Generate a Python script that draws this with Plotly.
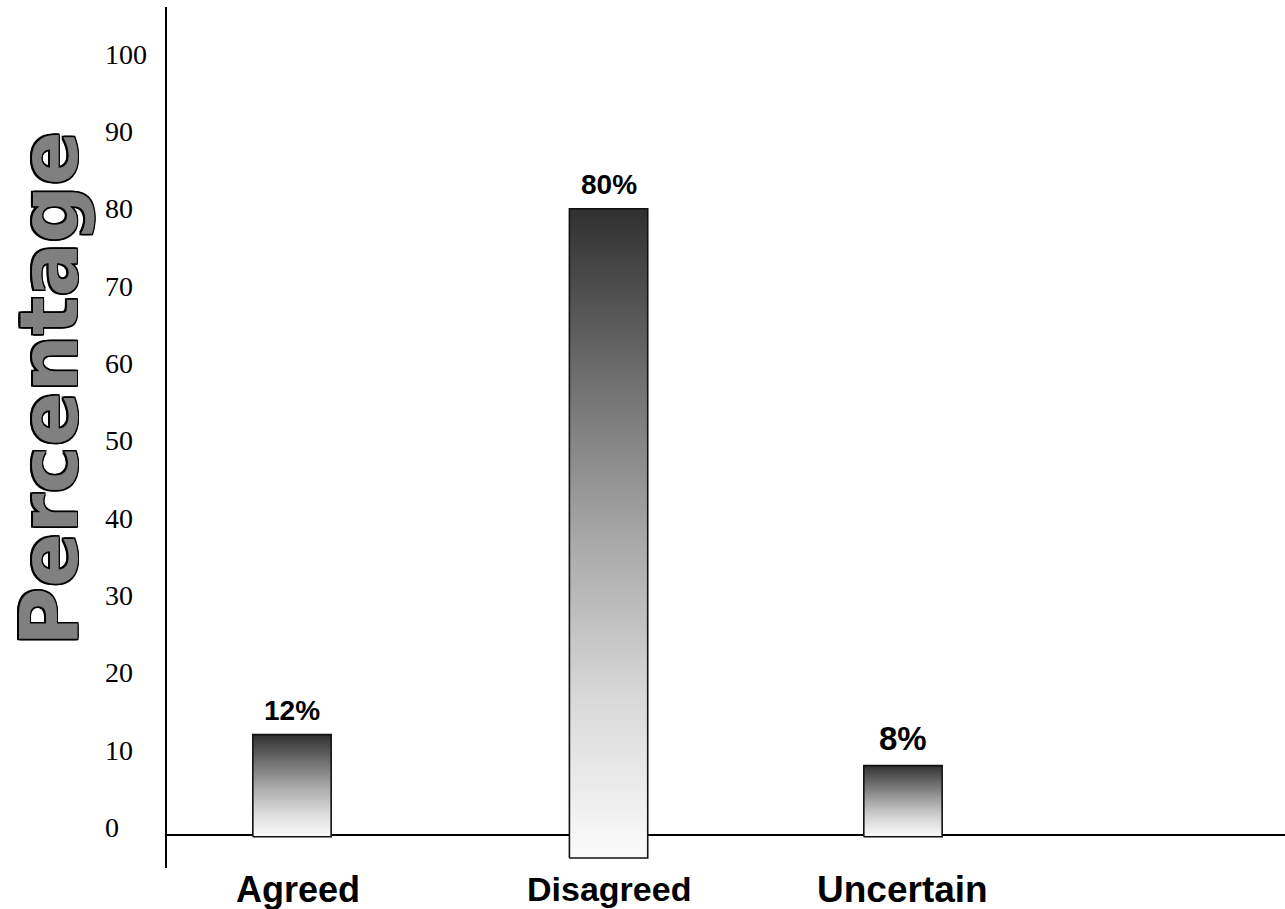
import plotly.graph_objects as go

# Survey responses (percent of respondents)
categories = ["Agreed", "Disagreed", "Uncertain"]
percentages = [12, 80, 8]
value_labels = ["12%", "80%", "8%"]
y_ticks = [0, 10, 20, 30, 40, 50, 60, 70, 80, 90, 100]

# Layout constants: bar centres on a 0-10 x scale, bar width, bar bottoms
x_centres = [1.126, 3.955, 6.586]
bar_width = 0.70
bar_bottoms = [-1.2, -3.95, -1.2]
label_sizes = [28, 28, 33]
cat_sizes = [36, 34, 37]
cat_offsets = [0.05, 0.0, 0.0]

# Shading from white at the foot to charcoal at the top of each bar
bar_shading = [[0, "#fbfbfb"], [0.25, "#d8d8d8"], [0.5, "#a6a6a6"],
               [0.75, "#6c6c6c"], [1, "#303030"]]

fig = go.Figure()

# Gradient-filled bars drawn as closed polygons
for cx, val, base in zip(x_centres, percentages, bar_bottoms):
    x0, x1 = cx - bar_width / 2, cx + bar_width / 2
    fig.add_trace(go.Scatter(
        x=[x0, x1, x1, x0, x0],
        y=[base, base, val, val, base],
        mode="lines",
        fill="toself",
        fillgradient=dict(type="vertical", colorscale=bar_shading),
        line=dict(color="#111111", width=1.6),
        hoverinfo="skip",
        showlegend=False,
    ))

# Value labels above bars
for cx, val, txt, fs in zip(x_centres, percentages, value_labels, label_sizes):
    fig.add_annotation(x=cx, y=val, xref="x", yref="y", text=f"<b>{txt}</b>",
                       showarrow=False, yanchor="bottom", yshift=7,
                       font=dict(family="Liberation Sans, Arial", size=fs, color="#000"))

# Category labels below the axis
for cx, cat, fs, off in zip(x_centres, categories, cat_sizes, cat_offsets):
    fig.add_annotation(x=cx + off, y=-0.022, xref="x", yref="paper", text=f"<b>{cat}</b>",
                       showarrow=False, yanchor="middle",
                       font=dict(family="Liberation Sans, Arial", size=fs, color="#000"))

# Left-aligned serif tick labels
for t in y_ticks:
    fig.add_annotation(x=-0.0566, y=t, xref="paper", yref="y", text=str(t),
                       showarrow=False, xanchor="left", yanchor="middle",
                       font=dict(family="Liberation Serif, Times New Roman", size=28, color="#000"))

# Outlined axis title
outline = ", ".join(f"{dx}px {dy}px 0 #000" for dx, dy in
                    [(1.5, 1.5), (-1.5, -1.5), (1.5, -1.5), (-1.5, 1.5),
                     (0, 1.5), (0, -1.5), (1.5, 0), (-1.5, 0)])
fig.add_annotation(x=-0.148, y=0.554, xref="paper", yref="paper", text="<b>Percentage</b>",
                   showarrow=False, textangle=-90, xanchor="left", yanchor="middle",
                   font=dict(family="DejaVu Sans", size=80, color="#808080", shadow=outline))

# Vertical axis line and horizontal baseline
fig.add_shape(type="line", xref="paper", yref="paper", x0=0, x1=0, y0=0.0023, y1=0.992,
              line=dict(color="#000", width=2), layer="below")
fig.add_shape(type="line", xref="paper", yref="y", x0=0, x1=1, y0=-0.97, y1=-0.97,
              line=dict(color="#000", width=2), layer="below")

fig.update_layout(
    width=1285, height=909,
    margin=dict(l=166, r=0, t=0, b=39),
    paper_bgcolor="white", plot_bgcolor="white",
    xaxis=dict(range=[0, 10], showgrid=False, zeroline=False, showticklabels=False,
               showline=False, fixedrange=True),
    yaxis=dict(range=[-5.5, 107], showgrid=False, zeroline=False, showticklabels=False,
               showline=False, ticks="", fixedrange=True),
)

fig.write_html("out.html")
